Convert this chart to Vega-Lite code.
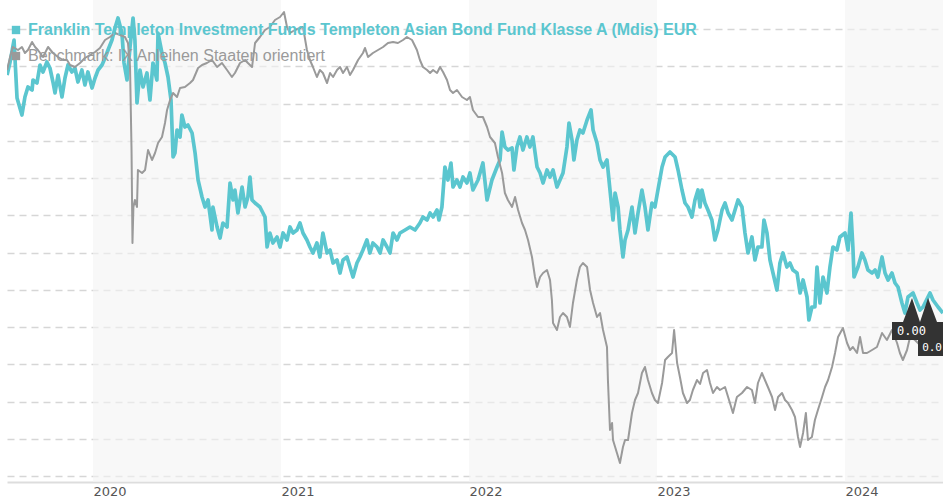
{
  "$schema": "https://vega.github.io/schema/vega-lite/v6.json",
  "autosize": "none",
  "width": 936,
  "height": 482,
  "padding": {"left": 7, "top": 0, "right": 0, "bottom": 18},
  "background": "#ffffff",
  "config": {"view": {"stroke": null}},
  "datasets": {
    "fund": [
      {"t":2019.543,"v":401},{"t":2019.559,"v":414},{"t":2019.580,"v":436},{"t":2019.596,"v":378},{"t":2019.622,"v":361},{"t":2019.638,"v":379},{"t":2019.654,"v":389},{"t":2019.676,"v":386},{"t":2019.681,"v":396},{"t":2019.702,"v":393},{"t":2019.718,"v":411},{"t":2019.734,"v":404},{"t":2019.755,"v":414},{"t":2019.771,"v":408},{"t":2019.787,"v":394},{"t":2019.798,"v":383},{"t":2019.814,"v":401},{"t":2019.835,"v":379},{"t":2019.851,"v":398},{"t":2019.867,"v":411},{"t":2019.888,"v":404},{"t":2019.904,"v":408},{"t":2019.920,"v":394},{"t":2019.941,"v":406},{"t":2019.957,"v":391},{"t":2019.973,"v":404},{"t":2019.995,"v":388},
      {"t":2020.011,"v":398},{"t":2020.027,"v":406},{"t":2020.048,"v":411},{"t":2020.064,"v":418},{"t":2020.080,"v":426},{"t":2020.101,"v":436},{"t":2020.117,"v":448},{"t":2020.133,"v":458},{"t":2020.154,"v":443},{"t":2020.165,"v":413},{"t":2020.181,"v":396},{"t":2020.197,"v":429},{"t":2020.213,"v":458},{"t":2020.223,"v":436},{"t":2020.234,"v":373},{"t":2020.250,"v":406},{"t":2020.266,"v":389},{"t":2020.287,"v":403},{"t":2020.303,"v":376},{"t":2020.319,"v":413},{"t":2020.340,"v":396},{"t":2020.346,"v":443},{"t":2020.367,"v":423},{"t":2020.383,"v":413},{"t":2020.399,"v":399},{"t":2020.415,"v":376},{"t":2020.426,"v":319},{"t":2020.436,"v":323},{"t":2020.447,"v":346},{"t":2020.463,"v":339},{"t":2020.473,"v":361},{"t":2020.489,"v":349},{"t":2020.505,"v":351},{"t":2020.527,"v":343},{"t":2020.543,"v":323},{"t":2020.559,"v":296},{"t":2020.580,"v":279},{"t":2020.596,"v":269},{"t":2020.612,"v":276},{"t":2020.633,"v":246},{"t":2020.638,"v":269},{"t":2020.660,"v":249},{"t":2020.676,"v":238},{"t":2020.691,"v":253},{"t":2020.713,"v":249},{"t":2020.729,"v":293},{"t":2020.745,"v":276},{"t":2020.755,"v":286},{"t":2020.771,"v":263},{"t":2020.793,"v":289},{"t":2020.809,"v":269},{"t":2020.824,"v":279},{"t":2020.835,"v":299},{"t":2020.846,"v":276},{"t":2020.862,"v":273},{"t":2020.888,"v":269},{"t":2020.915,"v":259},{"t":2020.926,"v":229},{"t":2020.941,"v":243},{"t":2020.957,"v":233},{"t":2020.979,"v":239},{"t":2020.995,"v":229},
      {"t":2021.011,"v":243},{"t":2021.032,"v":236},{"t":2021.048,"v":249},{"t":2021.064,"v":243},{"t":2021.085,"v":246},{"t":2021.101,"v":253},{"t":2021.117,"v":243},{"t":2021.138,"v":236},{"t":2021.154,"v":229},{"t":2021.170,"v":223},{"t":2021.191,"v":233},{"t":2021.207,"v":219},{"t":2021.223,"v":243},{"t":2021.245,"v":223},{"t":2021.261,"v":226},{"t":2021.277,"v":213},{"t":2021.298,"v":216},{"t":2021.314,"v":203},{"t":2021.330,"v":216},{"t":2021.351,"v":219},{"t":2021.367,"v":209},{"t":2021.383,"v":199},{"t":2021.404,"v":213},{"t":2021.420,"v":219},{"t":2021.436,"v":226},{"t":2021.457,"v":236},{"t":2021.473,"v":223},{"t":2021.489,"v":233},{"t":2021.511,"v":229},{"t":2021.527,"v":223},{"t":2021.543,"v":236},{"t":2021.564,"v":229},{"t":2021.580,"v":223},{"t":2021.596,"v":243},{"t":2021.617,"v":236},{"t":2021.633,"v":243},{"t":2021.660,"v":246},{"t":2021.686,"v":249},{"t":2021.713,"v":246},{"t":2021.739,"v":253},{"t":2021.755,"v":259},{"t":2021.777,"v":256},{"t":2021.793,"v":263},{"t":2021.809,"v":259},{"t":2021.830,"v":266},{"t":2021.840,"v":256},{"t":2021.856,"v":269},{"t":2021.872,"v":309},{"t":2021.888,"v":296},{"t":2021.904,"v":313},{"t":2021.915,"v":289},{"t":2021.936,"v":296},{"t":2021.952,"v":289},{"t":2021.968,"v":299},{"t":2021.989,"v":293},
      {"t":2022.005,"v":303},{"t":2022.021,"v":286},{"t":2022.048,"v":296},{"t":2022.074,"v":313},{"t":2022.096,"v":276},{"t":2022.122,"v":296},{"t":2022.149,"v":309},{"t":2022.165,"v":316},{"t":2022.176,"v":344},{"t":2022.191,"v":329},{"t":2022.207,"v":326},{"t":2022.229,"v":328},{"t":2022.239,"v":306},{"t":2022.255,"v":329},{"t":2022.271,"v":339},{"t":2022.287,"v":326},{"t":2022.308,"v":339},{"t":2022.324,"v":329},{"t":2022.340,"v":339},{"t":2022.362,"v":309},{"t":2022.378,"v":303},{"t":2022.394,"v":293},{"t":2022.415,"v":306},{"t":2022.431,"v":299},{"t":2022.447,"v":306},{"t":2022.468,"v":289},{"t":2022.484,"v":296},{"t":2022.500,"v":303},{"t":2022.521,"v":329},{"t":2022.532,"v":353},{"t":2022.548,"v":336},{"t":2022.558,"v":316},{"t":2022.574,"v":336},{"t":2022.590,"v":346},{"t":2022.606,"v":343},{"t":2022.628,"v":356},{"t":2022.649,"v":366},{"t":2022.660,"v":346},{"t":2022.681,"v":333},{"t":2022.697,"v":316},{"t":2022.713,"v":309},{"t":2022.734,"v":316},{"t":2022.750,"v":286},{"t":2022.766,"v":256},{"t":2022.777,"v":283},{"t":2022.793,"v":269},{"t":2022.803,"v":246},{"t":2022.819,"v":219},{"t":2022.830,"v":236},{"t":2022.846,"v":246},{"t":2022.867,"v":269},{"t":2022.883,"v":243},{"t":2022.899,"v":263},{"t":2022.920,"v":286},{"t":2022.936,"v":269},{"t":2022.952,"v":246},{"t":2022.973,"v":273},{"t":2022.989,"v":269},
      {"t":2023.005,"v":286},{"t":2023.027,"v":309},{"t":2023.043,"v":319},{"t":2023.069,"v":324},{"t":2023.096,"v":319},{"t":2023.112,"v":306},{"t":2023.133,"v":286},{"t":2023.149,"v":273},{"t":2023.165,"v":269},{"t":2023.186,"v":259},{"t":2023.202,"v":276},{"t":2023.218,"v":286},{"t":2023.229,"v":269},{"t":2023.239,"v":286},{"t":2023.255,"v":273},{"t":2023.271,"v":266},{"t":2023.292,"v":256},{"t":2023.308,"v":236},{"t":2023.324,"v":246},{"t":2023.346,"v":266},{"t":2023.362,"v":273},{"t":2023.378,"v":263},{"t":2023.399,"v":256},{"t":2023.415,"v":266},{"t":2023.431,"v":276},{"t":2023.452,"v":269},{"t":2023.468,"v":243},{"t":2023.484,"v":223},{"t":2023.505,"v":239},{"t":2023.521,"v":216},{"t":2023.537,"v":229},{"t":2023.558,"v":229},{"t":2023.569,"v":256},{"t":2023.585,"v":243},{"t":2023.601,"v":216},{"t":2023.617,"v":203},{"t":2023.638,"v":186},{"t":2023.654,"v":213},{"t":2023.670,"v":223},{"t":2023.691,"v":209},{"t":2023.707,"v":213},{"t":2023.723,"v":206},{"t":2023.745,"v":203},{"t":2023.761,"v":183},{"t":2023.777,"v":196},{"t":2023.798,"v":179},{"t":2023.808,"v":156},{"t":2023.824,"v":169},{"t":2023.840,"v":169},{"t":2023.851,"v":209},{"t":2023.867,"v":173},{"t":2023.883,"v":199},{"t":2023.904,"v":183},{"t":2023.920,"v":209},{"t":2023.936,"v":229},{"t":2023.957,"v":226},{"t":2023.973,"v":239},
      {"t":2024.000,"v":243},{"t":2024.016,"v":226},{"t":2024.032,"v":263},{"t":2024.042,"v":229},{"t":2024.048,"v":199},{"t":2024.069,"v":209},{"t":2024.090,"v":223},{"t":2024.106,"v":216},{"t":2024.122,"v":206},{"t":2024.144,"v":203},{"t":2024.160,"v":206},{"t":2024.175,"v":199},{"t":2024.197,"v":219},{"t":2024.213,"v":203},{"t":2024.229,"v":196},{"t":2024.250,"v":203},{"t":2024.266,"v":193},{"t":2024.282,"v":189},{"t":2024.303,"v":173},{"t":2024.319,"v":163},{"t":2024.335,"v":179},{"t":2024.362,"v":183},{"t":2024.383,"v":173},{"t":2024.399,"v":166},{"t":2024.415,"v":169},{"t":2024.452,"v":183},{"t":2024.468,"v":176},{"t":2024.495,"v":169},{"t":2024.521,"v":163}
    ],
    "bench": [
      {"t":2019.543,"v":406},{"t":2019.559,"v":419},{"t":2019.574,"v":429},{"t":2019.601,"v":426},{"t":2019.622,"v":429},{"t":2019.638,"v":423},{"t":2019.654,"v":426},{"t":2019.676,"v":434},{"t":2019.692,"v":429},{"t":2019.707,"v":426},{"t":2019.734,"v":419},{"t":2019.761,"v":429},{"t":2019.787,"v":423},{"t":2019.814,"v":419},{"t":2019.840,"v":416},{"t":2019.862,"v":416},{"t":2019.878,"v":411},{"t":2019.904,"v":409},{"t":2019.931,"v":413},{"t":2019.957,"v":418},{"t":2019.984,"v":421},
      {"t":2020.011,"v":424},{"t":2020.037,"v":428},{"t":2020.064,"v":436},{"t":2020.090,"v":439},{"t":2020.117,"v":443},{"t":2020.144,"v":441},{"t":2020.170,"v":439},{"t":2020.186,"v":433},{"t":2020.197,"v":409},{"t":2020.205,"v":326},{"t":2020.210,"v":233},{"t":2020.215,"v":269},{"t":2020.223,"v":276},{"t":2020.234,"v":269},{"t":2020.239,"v":306},{"t":2020.261,"v":303},{"t":2020.277,"v":306},{"t":2020.293,"v":326},{"t":2020.314,"v":316},{"t":2020.330,"v":323},{"t":2020.346,"v":333},{"t":2020.367,"v":339},{"t":2020.383,"v":353},{"t":2020.394,"v":366},{"t":2020.410,"v":376},{"t":2020.426,"v":383},{"t":2020.447,"v":379},{"t":2020.463,"v":388},{"t":2020.489,"v":389},{"t":2020.516,"v":393},{"t":2020.532,"v":396},{"t":2020.559,"v":408},{"t":2020.580,"v":411},{"t":2020.606,"v":413},{"t":2020.633,"v":416},{"t":2020.660,"v":409},{"t":2020.686,"v":413},{"t":2020.713,"v":406},{"t":2020.739,"v":399},{"t":2020.755,"v":403},{"t":2020.782,"v":413},{"t":2020.809,"v":416},{"t":2020.824,"v":413},{"t":2020.846,"v":409},{"t":2020.862,"v":433},{"t":2020.888,"v":439},{"t":2020.915,"v":446},{"t":2020.941,"v":449},{"t":2020.968,"v":456},{"t":2020.995,"v":459},
      {"t":2021.016,"v":464},{"t":2021.032,"v":449},{"t":2021.048,"v":443},{"t":2021.074,"v":446},{"t":2021.101,"v":448},{"t":2021.117,"v":449},{"t":2021.138,"v":426},{"t":2021.154,"v":416},{"t":2021.170,"v":409},{"t":2021.191,"v":399},{"t":2021.207,"v":406},{"t":2021.223,"v":403},{"t":2021.245,"v":393},{"t":2021.261,"v":403},{"t":2021.277,"v":399},{"t":2021.298,"v":406},{"t":2021.314,"v":409},{"t":2021.330,"v":403},{"t":2021.351,"v":409},{"t":2021.367,"v":401},{"t":2021.383,"v":406},{"t":2021.410,"v":416},{"t":2021.436,"v":423},{"t":2021.447,"v":428},{"t":2021.463,"v":419},{"t":2021.489,"v":423},{"t":2021.516,"v":426},{"t":2021.543,"v":429},{"t":2021.569,"v":433},{"t":2021.596,"v":434},{"t":2021.622,"v":433},{"t":2021.649,"v":436},{"t":2021.670,"v":439},{"t":2021.697,"v":436},{"t":2021.723,"v":426},{"t":2021.739,"v":416},{"t":2021.755,"v":409},{"t":2021.777,"v":406},{"t":2021.793,"v":403},{"t":2021.809,"v":406},{"t":2021.830,"v":403},{"t":2021.846,"v":409},{"t":2021.862,"v":404},{"t":2021.883,"v":396},{"t":2021.899,"v":386},{"t":2021.915,"v":383},{"t":2021.936,"v":386},{"t":2021.963,"v":379},{"t":2021.989,"v":376},
      {"t":2022.005,"v":379},{"t":2022.021,"v":366},{"t":2022.048,"v":359},{"t":2022.074,"v":359},{"t":2022.096,"v":349},{"t":2022.112,"v":339},{"t":2022.138,"v":333},{"t":2022.154,"v":319},{"t":2022.176,"v":303},{"t":2022.191,"v":283},{"t":2022.207,"v":276},{"t":2022.229,"v":269},{"t":2022.245,"v":279},{"t":2022.261,"v":266},{"t":2022.282,"v":253},{"t":2022.298,"v":246},{"t":2022.314,"v":236},{"t":2022.335,"v":219},{"t":2022.351,"v":199},{"t":2022.362,"v":189},{"t":2022.378,"v":199},{"t":2022.394,"v":203},{"t":2022.415,"v":206},{"t":2022.431,"v":196},{"t":2022.441,"v":176},{"t":2022.447,"v":153},{"t":2022.468,"v":146},{"t":2022.484,"v":159},{"t":2022.500,"v":163},{"t":2022.521,"v":159},{"t":2022.537,"v":149},{"t":2022.553,"v":173},{"t":2022.574,"v":196},{"t":2022.590,"v":209},{"t":2022.606,"v":213},{"t":2022.628,"v":209},{"t":2022.644,"v":186},{"t":2022.660,"v":173},{"t":2022.681,"v":159},{"t":2022.697,"v":163},{"t":2022.713,"v":146},{"t":2022.734,"v":129},{"t":2022.739,"v":96},{"t":2022.750,"v":46},{"t":2022.761,"v":53},{"t":2022.766,"v":36},{"t":2022.787,"v":23},{"t":2022.803,"v":13},{"t":2022.819,"v":29},{"t":2022.830,"v":36},{"t":2022.846,"v":36},{"t":2022.867,"v":63},{"t":2022.883,"v":76},{"t":2022.899,"v":83},{"t":2022.920,"v":103},{"t":2022.936,"v":109},{"t":2022.952,"v":96},{"t":2022.973,"v":83},{"t":2022.989,"v":76},
      {"t":2023.005,"v":73},{"t":2023.027,"v":93},{"t":2023.043,"v":116},{"t":2023.058,"v":119},{"t":2023.080,"v":123},{"t":2023.091,"v":146},{"t":2023.107,"v":113},{"t":2023.122,"v":99},{"t":2023.138,"v":83},{"t":2023.160,"v":73},{"t":2023.175,"v":76},{"t":2023.191,"v":86},{"t":2023.213,"v":96},{"t":2023.229,"v":92},{"t":2023.245,"v":103},{"t":2023.266,"v":106},{"t":2023.282,"v":93},{"t":2023.298,"v":83},{"t":2023.319,"v":89},{"t":2023.335,"v":86},{"t":2023.362,"v":89},{"t":2023.388,"v":73},{"t":2023.404,"v":63},{"t":2023.425,"v":79},{"t":2023.452,"v":83},{"t":2023.479,"v":89},{"t":2023.505,"v":86},{"t":2023.521,"v":73},{"t":2023.537,"v":93},{"t":2023.558,"v":103},{"t":2023.574,"v":96},{"t":2023.590,"v":89},{"t":2023.612,"v":79},{"t":2023.628,"v":66},{"t":2023.644,"v":79},{"t":2023.665,"v":83},{"t":2023.681,"v":76},{"t":2023.697,"v":73},{"t":2023.718,"v":66},{"t":2023.734,"v":59},{"t":2023.750,"v":39},{"t":2023.761,"v":29},{"t":2023.777,"v":43},{"t":2023.792,"v":63},{"t":2023.803,"v":36},{"t":2023.824,"v":39},{"t":2023.840,"v":56},{"t":2023.856,"v":66},{"t":2023.878,"v":79},{"t":2023.894,"v":89},{"t":2023.910,"v":96},{"t":2023.931,"v":109},{"t":2023.947,"v":123},{"t":2023.963,"v":139},{"t":2023.989,"v":148},
      {"t":2024.011,"v":133},{"t":2024.027,"v":126},{"t":2024.042,"v":129},{"t":2024.064,"v":123},{"t":2024.080,"v":139},{"t":2024.096,"v":123},{"t":2024.117,"v":123},{"t":2024.144,"v":126},{"t":2024.170,"v":129},{"t":2024.197,"v":143},{"t":2024.223,"v":136},{"t":2024.250,"v":146},{"t":2024.277,"v":133},{"t":2024.292,"v":123},{"t":2024.308,"v":116},{"t":2024.330,"v":126},{"t":2024.346,"v":139},{"t":2024.372,"v":136},{"t":2024.399,"v":131},{"t":2024.425,"v":138},{"t":2024.452,"v":134},{"t":2024.479,"v":140},{"t":2024.521,"v":136}
    ]
  },
  "encoding": {
    "x": {
      "field": "t", "type": "quantitative",
      "scale": {"domain": [2019.5426, 2024.5213], "nice": false, "zero": false},
      "axis": {
        "title": null, "values": [2020, 2021, 2022, 2023, 2024], "format": "d",
        "grid": false, "ticks": false, "domainColor": "#dddddd", "domainWidth": 2,
        "labelAlign": "left", "labelDx": 2, "labelBaseline": "top", "labelPadding": 3,
        "labelFont": "DejaVu Sans", "labelFontSize": 13, "labelColor": "#555555"
      }
    },
    "y": {
      "field": "v", "type": "quantitative",
      "scale": {"domain": [-6, 476], "nice": false, "zero": false},
      "axis": {
        "title": null, "labels": false, "ticks": false, "domain": false,
        "values": [0, 37.25, 74.5, 111.75, 149, 186.25, 223.5, 260.75, 298, 335.25, 372.5, 409.75, 447],
        "grid": true, "gridDash": [7, 5], "gridColor": "#d6d6d6", "gridWidth": 1.5
      }
    }
  },
  "layer": [
    {
      "data": {"values": [{"start": 2020, "end": 2021}, {"start": 2022, "end": 2023}, {"start": 2024, "end": 2025}]},
      "mark": {"type": "rect", "fill": "#f3f3f3", "opacity": 0.6, "clip": true},
      "encoding": {"x": {"field": "start", "type": "quantitative"}, "x2": {"field": "end"}, "y": {"value": 0}, "y2": {"value": 482}}
    },
    {
      "data": {"name": "fund"},
      "mark": {"type": "line", "strokeWidth": 3.7, "strokeJoin": "round", "clip": true},
      "encoding": {
        "color": {
          "datum": "Franklin Templeton Investment Funds Templeton Asian Bond Fund Klasse A (Mdis) EUR",
          "type": "nominal",
          "scale": {
            "domain": ["Franklin Templeton Investment Funds Templeton Asian Bond Fund Klasse A (Mdis) EUR", "Benchmark: IX Anleihen Staaten orientiert"],
            "range": ["#5bc6cf", "#9a9a9a"]
          },
          "legend": {
            "title": null, "orient": "none", "legendX": 1, "legendY": 22, "direction": "vertical",
            "padding": 0, "symbolType": "square", "symbolSize": 70, "symbolStrokeWidth": 0,
            "labelFont": "Liberation Sans", "labelFontSize": 16, "labelLimit": 1000, "labelOffset": 4,
            "rowPadding": 10, "zindex": 1,
            "encode": {
              "symbols": {"update": {"fill": {"scale": "color", "field": "value"}, "fillOpacity": {"value": 1}, "strokeWidth": {"value": 0}}},
              "labels": {"update": {"fill": {"scale": "color", "field": "value"}, "fontWeight": {"signal": "datum.index === 0 ? 'bold' : 'normal'"}}}
            }
          }
        }
      }
    },
    {
      "data": {"name": "bench"},
      "mark": {"type": "line", "strokeWidth": 2, "strokeJoin": "round", "clip": true},
      "encoding": {"color": {"datum": "Benchmark: IX Anleihen Staaten orientiert", "type": "nominal"}}
    },
    {
      "data": {"values": [{"t": 2024.5213, "v": 163}]},
      "mark": {"type": "point", "filled": true, "opacity": 1, "color": "#333333", "size": 400, "strokeWidth": 0,
        "shape": "M-5.1,0.9L1,0.9L1,2.7L-5.1,2.7Z M-4,0.9L-3.1,-1.5L-2.3,0.9Z M-2.3,0.9L-1.5,-1.5L-0.6,0.9Z"}
    },
    {
      "data": {"values": [{"t": 2024.5213, "v": 136}]},
      "mark": {"type": "point", "filled": true, "opacity": 1, "color": "#333333", "size": 400, "strokeWidth": 0,
        "shape": "M-2.5,0L1,0L1,1.6L-2.5,1.6Z"}
    },
    {
      "data": {"values": [{"t": 2024.5213, "v": 163, "label": "0.00"}]},
      "mark": {"type": "text", "color": "#ffffff", "font": "DejaVu Sans Mono", "fontSize": 12, "align": "left", "baseline": "middle", "dx": -46, "dy": 18},
      "encoding": {"text": {"field": "label"}}
    },
    {
      "data": {"values": [{"t": 2024.5213, "v": 136, "label": "0.0"}]},
      "mark": {"type": "text", "color": "#ffffff", "font": "DejaVu Sans Mono", "fontSize": 11, "align": "right", "baseline": "middle", "dx": -1, "dy": 8},
      "encoding": {"text": {"field": "label"}}
    }
  ]
}
